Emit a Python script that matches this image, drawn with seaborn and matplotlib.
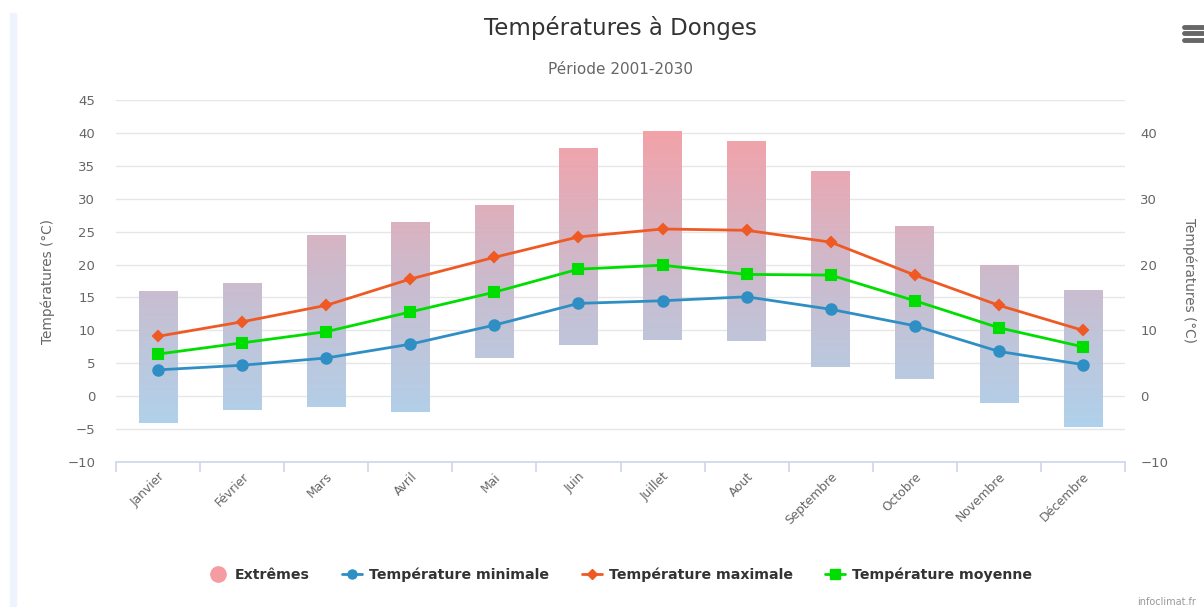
import numpy as np
import matplotlib
matplotlib.use("Agg")
import matplotlib.pyplot as plt
from matplotlib.colors import LinearSegmentedColormap
from matplotlib.lines import Line2D
from matplotlib.patches import Rectangle
import seaborn as sns

sns.set_theme(style="white")
plt.rcParams['font.family'] = ['DejaVu Sans']

mois = ["Janvier", "Février", "Mars", "Avril", "Mai", "Juin", "Juillet",
        "Aout", "Septembre", "Octobre", "Novembre", "Décembre"]
extr_bas = [-4.0, -2.1, -1.7, -2.4, 5.8, 7.8, 8.5, 8.4, 4.4, 2.6, -1.1, -4.7]
extr_haut = [16.0, 17.2, 24.5, 26.5, 29.0, 37.7, 40.3, 38.8, 34.2, 25.8, 20.0, 16.1]
t_min = [4.0, 4.7, 5.8, 7.9, 10.8, 14.1, 14.5, 15.1, 13.2, 10.7, 6.8, 4.8]
t_max = [9.1, 11.3, 13.8, 17.8, 21.1, 24.2, 25.4, 25.2, 23.4, 18.4, 13.8, 10.0]
t_moy = [6.4, 8.1, 9.8, 12.8, 15.8, 19.3, 19.9, 18.5, 18.4, 14.5, 10.4, 7.5]

c_min = "#2f8fc5"
c_max = "#ef5a24"
c_moy = "#00dd00"
txt = "#666666"

fig = plt.figure(figsize=(12.04, 6.07), dpi=100)
ax = fig.add_axes([116 / 1204, 1 - 462 / 607, 1009 / 1204, 362 / 607])

# extremes as floating bars with a value-based gradient
hauteur = np.array(extr_haut) - np.array(extr_bas)
sns.barplot(x=mois, y=hauteur, bottom=extr_bas, width=0.46, ax=ax,
            color="#ffffff", facecolor="none", edgecolor="none", zorder=1)
cmap = LinearSegmentedColormap.from_list("extr", ["#abd0eb", "#c9b8cb", "#f59ca3"])
grad = np.linspace(0, 1, 256).reshape(-1, 1)
for p in ax.patches:
    im = ax.imshow(grad, extent=(-0.5, 11.5, -5, 41), origin="lower",
                   aspect="auto", cmap=cmap, alpha=0.95, zorder=1)
    im.set_clip_path(p)

sns.pointplot(x=mois, y=t_min, color=c_min, marker="o", markersize=7.5,
              linewidth=2, ax=ax, zorder=4)
sns.pointplot(x=mois, y=t_max, color=c_max, marker="D", markersize=5.5,
              linewidth=2, ax=ax, zorder=5)
sns.pointplot(x=mois, y=t_moy, color=c_moy, marker="s", markersize=7,
              linewidth=2, ax=ax, zorder=6)

ax.set_xlim(-0.5, 11.5)
ax.set_ylim(-10, 45)
ax.set_yticks(np.arange(-10, 46, 5))
ax.yaxis.grid(True, color="#e6e6e6", linewidth=1)
ax.set_axisbelow(True)
for s in ["top", "right", "left"]:
    ax.spines[s].set_visible(False)
ax.spines["bottom"].set_color("#ccd6eb")
ax.spines["bottom"].set_linewidth(1.2)
ax.set_xticks(np.arange(12))
ax.set_xticklabels(mois, rotation=45, ha="right", rotation_mode="anchor",
                   fontsize=8.8, color=txt)
ax.set_xticks(np.arange(-0.5, 12, 1), minor=True)
ax.tick_params(axis="x", which="major", length=0, pad=6)
ax.tick_params(axis="x", which="minor", length=7, color="#ccd6eb", width=1.2,
               bottom=True)
ax.tick_params(axis="y", length=0, labelsize=9.5, labelcolor=txt, pad=15)
ax.set_xlabel("")
ax.set_ylabel("Températures (°C)", fontsize=9.8, color=txt, labelpad=9)

ax2 = ax.twinx()
ax2.set_ylim(-10, 45)
ax2.set_yticks(np.arange(-10, 41, 10))
ax2.tick_params(axis="y", length=0, labelsize=9.5, labelcolor=txt, pad=11)
for s in ax2.spines.values():
    s.set_visible(False)
ax2.set_ylabel("Températures (°C)", fontsize=9.8, color=txt, rotation=270,
               labelpad=20)

fig.text(0.515, 1 - 28 / 607, "Températures à Donges", ha="center", va="center",
         fontsize=16.5, color="#333333")
fig.text(0.515, 1 - 69 / 607, "Période 2001-2030", ha="center", va="center",
         fontsize=11, color=txt)

handles = [
    Line2D([], [], linestyle="none", marker="o", markersize=11, color="#f59ca3"),
    Line2D([], [], color=c_min, marker="o", markersize=6.5, linewidth=2),
    Line2D([], [], color=c_max, marker="D", markersize=5, linewidth=2),
    Line2D([], [], color=c_moy, marker="s", markersize=6.5, linewidth=2),
]
labels = ["Extrêmes", "Température minimale", "Température maximale",
          "Température moyenne"]
fig.legend(handles, labels, loc="center", bbox_to_anchor=(0.515, 1 - 575 / 607),
           ncol=4, frameon=False, handlelength=1.4, handletextpad=0.5,
           columnspacing=2.3, prop={"weight": "bold", "size": 10.2},
           labelcolor="#333333")

# decorations of the original page
fig.patches.append(Rectangle((10 / 1204, 0), 6 / 1204, 1 - 13 / 607,
                             transform=fig.transFigure, color="#eef3fe"))
for yy in (27, 33, 40):
    fig.add_artist(Line2D([1184 / 1204, 1204 / 1204], [1 - yy / 607] * 2,
                          color="#666666", linewidth=3.5, solid_capstyle="round"))
fig.text(1137 / 1204, 0.0, "infoclimat.fr", fontsize=7, color="#999999",
         va="bottom")

fig.savefig("out.png", dpi=100)
